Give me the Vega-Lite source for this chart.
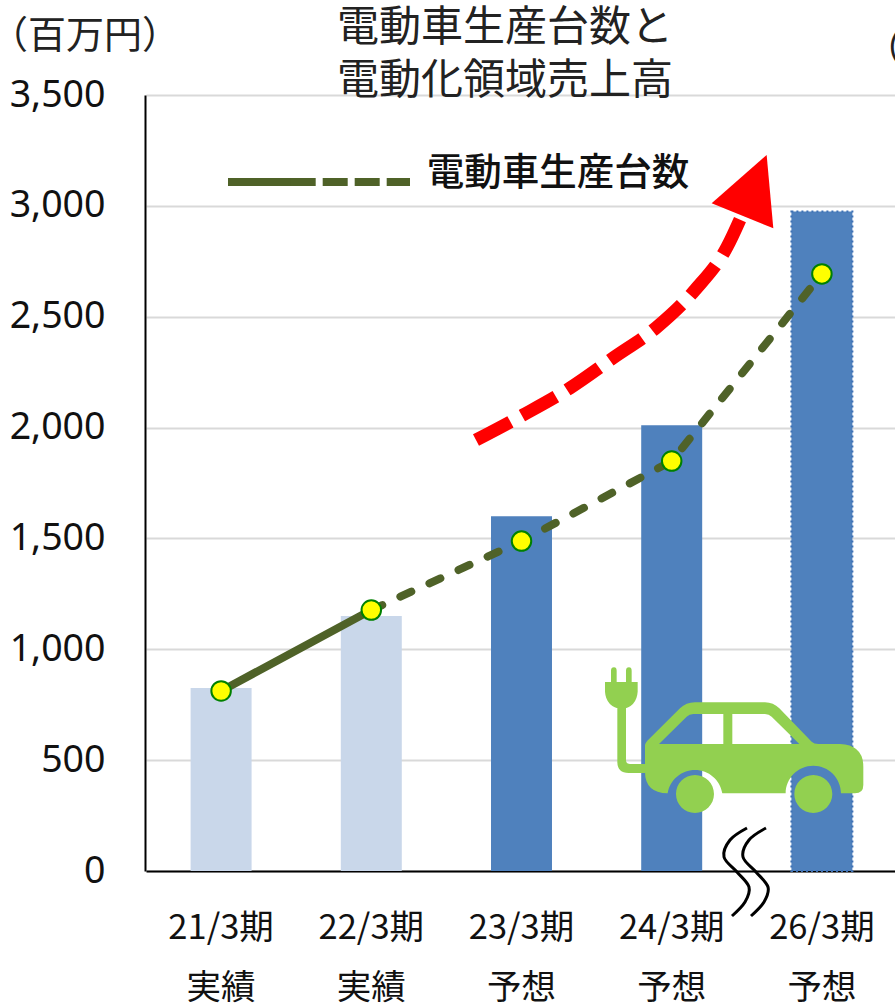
{
"$schema":"https://vega.github.io/schema/vega-lite/v6.json",
"width":750,"height":776,
"autosize":{"type":"none"},
"padding":{"left":145,"top":95,"right":0,"bottom":133},
"background":"white",
"config":{"view":{"stroke":null},"font":"Noto Sans CJK JP"},
"title":{"text":["電動車生産台数と","電動化領域売上高"],"font":"Noto Sans CJK JP","fontSize":42,"fontWeight":"normal","color":"#222222","anchor":"middle","dx":-15,"offset":-85,"lineHeight":53},
"resolve":{"scale":{"x":"independent"}},
"datasets":{
"bars":[
{"period":"21/3期\n実績","sales":825,"kind":"actual"},
{"period":"22/3期\n実績","sales":1150,"kind":"actual"},
{"period":"23/3期\n予想","sales":1600,"kind":"forecast"},
{"period":"24/3期\n予想","sales":2010,"kind":"forecast"},
{"period":"26/3期\n予想","sales":2975,"kind":"far"}],
"actualLine":[
{"period":"21/3期\n実績","units":812},
{"period":"22/3期\n実績","units":1177}],
"forecastLine":[
{"period":"22/3期\n実績","units":1177},
{"period":"23/3期\n予想","units":1488},
{"period":"24/3期\n予想","units":1849},
{"period":"26/3期\n予想","units":2693}],
"points":[
{"period":"21/3期\n実績","units":812},
{"period":"22/3期\n実績","units":1177},
{"period":"23/3期\n予想","units":1488},
{"period":"24/3期\n予想","units":1849},
{"period":"26/3期\n予想","units":2693}],
"keySolid":[{"pos":0.5526,"val":3107.6},{"pos":1.12,"val":3107.6}],
"keyDash":[{"pos":0.97,"val":3107.6},{"pos":1.7643,"val":3107.6}],
"trend":[
{"i":0,"pos":2.2037,"val":1943.9},
{"i":1,"pos":2.5166,"val":2056.7},
{"i":2,"pos":2.8296,"val":2178.5},
{"i":3,"pos":3.1158,"val":2313.8},
{"i":4,"pos":3.4088,"val":2453.6},
{"i":5,"pos":3.6618,"val":2620.5},
{"i":6,"pos":3.8748,"val":2814.4},
{"i":7,"pos":3.9747,"val":2958.8}],
"breakMark":[
{"s":"a","i":0,"pos":4.0080,"val":193.9},
{"s":"a","i":1,"pos":3.8948,"val":139.8},
{"s":"a","i":2,"pos":3.8549,"val":63.1},
{"s":"a","i":3,"pos":3.9414,"val":-4.5},
{"s":"a","i":4,"pos":4.0213,"val":-72.2},
{"s":"a","i":5,"pos":3.9947,"val":-139.8},
{"s":"a","i":6,"pos":3.9081,"val":-203.0},
{"s":"b","i":0,"pos":4.1345,"val":193.9},
{"s":"b","i":1,"pos":4.0213,"val":139.8},
{"s":"b","i":2,"pos":3.9814,"val":63.1},
{"s":"b","i":3,"pos":4.0679,"val":-4.5},
{"s":"b","i":4,"pos":4.1478,"val":-72.2},
{"s":"b","i":5,"pos":4.1212,"val":-139.8},
{"s":"b","i":6,"pos":4.0346,"val":-203.0}]
},
"layer":[
{"data":{"name":"bars"},
 "mark":{"type":"bar","width":{"band":0.406},"strokeWidth":2,"strokeDash":[2,3]},
 "encoding":{
  "x":{"field":"period","type":"nominal","sort":null,"scale":{"type":"band","range":[1,752],"paddingInner":0,"paddingOuter":0},
   "axis":{"title":null,"domainColor":"#000000","domainWidth":2,"ticks":false,"labelAngle":0,"labelFont":"Noto Sans CJK JP","labelFontSize":34.5,"labelColor":"#111111","labelPadding":40,"labelLineHeight":60,"labelExpr":"split(datum.label,'\\n')","labelOverlap":false,"labelBound":false,"labelLimit":0,"grid":false}},
  "y":{"field":"sales","type":"quantitative","scale":{"domain":[0,3500],"nice":false},
   "axis":{"title":null,"values":[0,500,1000,1500,2000,2500,3000,3500],"format":",d","grid":true,"gridColor":"#D9D9D9","gridWidth":2,"domainColor":"#000000","domainWidth":2,"ticks":false,"labelFont":"Noto Sans","labelFontSize":37.5,"labelColor":"#111111","labelPadding":40,"labelBound":false,"labelOverlap":false}},
  "color":{"field":"kind","type":"nominal","legend":null,"scale":{"domain":["actual","forecast","far"],"range":["#C9D7EA","#4F81BD","#4F81BD"]}},
  "stroke":{"condition":{"test":"datum.kind==='far'","value":"#3F72B5"},"value":null}
 }},
{"data":{"name":"actualLine"},
 "mark":{"type":"line","color":"#4F6228","strokeWidth":8,"strokeCap":"round"},
 "encoding":{
  "x":{"field":"period","type":"nominal","sort":null,"axis":null,"scale":{"type":"band","domain":["21/3期\n実績","22/3期\n実績","23/3期\n予想","24/3期\n予想","26/3期\n予想"],"range":[1,752],"paddingInner":0,"paddingOuter":0}},
  "y":{"field":"units","type":"quantitative"}}},
{"data":{"name":"forecastLine"},
 "mark":{"type":"line","color":"#4F6228","strokeWidth":8,"strokeCap":"round","strokeDash":[12,20]},
 "encoding":{
  "x":{"field":"period","type":"nominal","sort":null,"axis":null,"scale":{"type":"band","domain":["21/3期\n実績","22/3期\n実績","23/3期\n予想","24/3期\n予想","26/3期\n予想"],"range":[1,752],"paddingInner":0,"paddingOuter":0}},
  "y":{"field":"units","type":"quantitative"}}},
{"data":{"name":"points"},
 "mark":{"type":"point","filled":true,"shape":"circle","size":380,"fill":"#FFFF00","stroke":"#008000","strokeWidth":2,"opacity":1},
 "encoding":{
  "x":{"field":"period","type":"nominal","sort":null,"axis":null,"scale":{"type":"band","domain":["21/3期\n実績","22/3期\n実績","23/3期\n予想","24/3期\n予想","26/3期\n予想"],"range":[1,752],"paddingInner":0,"paddingOuter":0}},
  "y":{"field":"units","type":"quantitative"}}},
{"data":{"name":"keySolid"},
 "mark":{"type":"line","color":"#4F6228","strokeWidth":8},
 "encoding":{
  "x":{"field":"pos","type":"quantitative","axis":null,"scale":{"domain":[0,5],"nice":false,"zero":false,"range":[0,751]}},
  "y":{"field":"val","type":"quantitative"}}},
{"data":{"name":"keyDash"},
 "mark":{"type":"line","color":"#4F6228","strokeWidth":8,"strokeDash":[25,7]},
 "encoding":{
  "x":{"field":"pos","type":"quantitative","axis":null,"scale":{"domain":[0,5],"nice":false,"zero":false,"range":[0,751]}},
  "y":{"field":"val","type":"quantitative"}}},
{"data":{"name":"trend"},
 "mark":{"type":"line","color":"#FF0000","strokeWidth":13,"strokeDash":[39,13],"interpolate":"monotone"},
 "encoding":{
  "x":{"field":"pos","type":"quantitative","axis":null,"scale":{"domain":[0,5],"nice":false,"zero":false,"range":[0,751]}},
  "y":{"field":"val","type":"quantitative"},
  "order":{"field":"i"}}},
{"data":{"values":[{"pos":2.0972,"val":3297}]},
 "mark":{"type":"point","filled":true,"opacity":1,"fill":"#FF0000","strokeWidth":0,"size":0.4444,"shape":"M755 190 L920 45 L940 265 Z"},
 "encoding":{
  "x":{"field":"pos","type":"quantitative","axis":null,"scale":{"domain":[0,5],"nice":false,"zero":false,"range":[0,751]}},
  "y":{"field":"val","type":"quantitative"}}},
{"data":{"name":"breakMark"},
 "mark":{"type":"line","color":"#000000","strokeWidth":3,"interpolate":"cardinal"},
 "encoding":{
  "x":{"field":"pos","type":"quantitative","axis":null,"scale":{"domain":[0,5],"nice":false,"zero":false,"range":[0,751]}},
  "y":{"field":"val","type":"quantitative"},
  "detail":{"field":"s"},
  "order":{"field":"i"}}},
{"data":{"values":[{"pos":2.9627,"val":996.8}]},
 "mark":{"type":"point","filled":true,"opacity":1,"fill":"#92D050","strokeWidth":0,"size":0.4444,
  "shape":"M233 430 Q165 428 165 365 L165 285 Q165 280 172 272 L270 175 Q288 157 315 157 L525 157 Q550 157 568 175 L665 275 Q672 282 685 282 L750 282 Q820 285 820 350 L820 405 Q820 430 795 430 L753 430 A83 83 0 0 0 587 430 L397 430 A83 83 0 0 0 233 430 Z M207 282 L400 282 L400 192 L310 192 Q298 192 290 200 Z M427 282 L628 282 L545 200 Q537 192 525 192 L427 192 Z M258 432 A57 57 0 1 1 372 432 A57 57 0 1 1 258 432 Z M613 432 A57 57 0 1 1 727 432 A57 57 0 1 1 613 432 Z M165 369 L116 369 Q82 369 82 335 L82 170 L108 170 L108 330 Q108 342 120 342 L165 342 Z M45 96 L143 96 L143 125 Q140 170 95 178 Q48 170 45 125 Z M63 96 L63 62 Q63 52 72 52 Q80 52 80 62 L80 96 Z M108 96 L108 62 Q108 52 117 52 Q125 52 125 62 L125 96 Z"},
 "encoding":{
  "x":{"field":"pos","type":"quantitative","axis":null,"scale":{"domain":[0,5],"nice":false,"zero":false,"range":[0,751]}},
  "y":{"field":"val","type":"quantitative"}}},
{"data":{"values":[{"pos":2.7496,"val":3143,"label":"電動車生産台数"}]},
 "mark":{"type":"text","font":"Noto Sans CJK JP","fontSize":37.5,"fontWeight":500,"color":"#111111","align":"center","baseline":"middle"},
 "encoding":{
  "x":{"field":"pos","type":"quantitative","axis":null,"scale":{"domain":[0,5],"nice":false,"zero":false,"range":[0,751]}},
  "y":{"field":"val","type":"quantitative"},
  "text":{"field":"label"}}},
{"data":{"values":[{"pos":-0.3995,"val":3761.6,"label":"（百万円）"}]},
 "mark":{"type":"text","font":"Noto Sans CJK JP","fontSize":38,"color":"#222222","align":"center","baseline":"middle"},
 "encoding":{
  "x":{"field":"pos","type":"quantitative","axis":null,"scale":{"domain":[0,5],"nice":false,"zero":false,"range":[0,751]}},
  "y":{"field":"val","type":"quantitative"},
  "text":{"field":"label"}}},
{"data":{"values":[{"pos":4.79,"val":3703,"label":"（"}]},
 "mark":{"type":"text","font":"Noto Sans CJK JP","fontSize":38,"color":"#222222","align":"left","baseline":"middle"},
 "encoding":{
  "x":{"field":"pos","type":"quantitative","axis":null,"scale":{"domain":[0,5],"nice":false,"zero":false,"range":[0,751]}},
  "y":{"field":"val","type":"quantitative"},
  "text":{"field":"label"}}}
]
}
